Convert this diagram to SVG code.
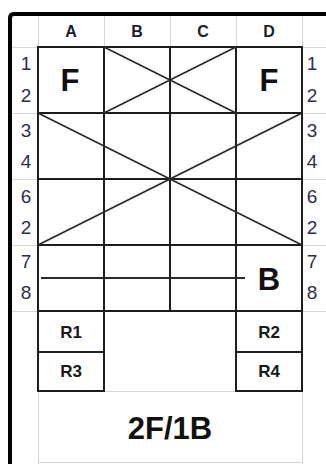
<svg xmlns="http://www.w3.org/2000/svg" width="326" height="464" viewBox="0 0 326 464">
<style>
.g{stroke:#d6d6d6;stroke-width:1;fill:none}
.k{stroke:#1e1e1e;stroke-width:2;fill:none;stroke-linecap:square}
.d{stroke:#2a2a2a;stroke-width:1.8;fill:none}
.hd{font-family:"Liberation Sans",Arial,sans-serif;font-weight:bold;font-size:16px;fill:#1e1e2a;text-anchor:middle}
.rn{font-family:"Liberation Sans",Arial,sans-serif;font-size:19px;fill:#2e2e4a;text-anchor:middle}
.big{font-family:"Liberation Sans",Arial,sans-serif;font-weight:bold;font-size:31px;fill:#111;text-anchor:middle}
.r{font-family:"Liberation Sans",Arial,sans-serif;font-weight:bold;font-size:17px;fill:#1a1a1a;text-anchor:middle}
</style>
<rect x="0" y="0" width="326" height="464" fill="#ffffff"/>
<g id="gridlines">
<path class="g" d="M38.5 16V464M104.5 16V47M170.5 16V47M236.5 16V47M302.5 16V464"/>
<path class="g" d="M12 47.5H326M12 113.5H38M302 113.5H326M12 179.5H38M302 179.5H326M12 245.5H38M302 245.5H326M12 311.5H38M302 311.5H326M104 391.5H236M38 462.5H302"/>
</g>
<g id="frame">
<path d="M10 464V18Q10 14 14 14H326" stroke="#000" stroke-width="4" fill="none"/>
</g>
<g id="headers">
<text class="hd" x="71" y="37">A</text>
<text class="hd" x="137" y="37">B</text>
<text class="hd" x="203" y="37">C</text>
<text class="hd" x="269" y="37">D</text>
</g>
<g id="row-labels-left">
<text class="rn" x="26" y="70">1</text>
<text class="rn" x="26" y="102">2</text>
<text class="rn" x="26" y="137">3</text>
<text class="rn" x="26" y="168">4</text>
<text class="rn" x="26" y="203">6</text>
<text class="rn" x="26" y="234">2</text>
<text class="rn" x="26" y="268">7</text>
<text class="rn" x="26" y="299">8</text>
</g>
<g id="row-labels-right">
<text class="rn" x="312" y="70">1</text>
<text class="rn" x="312" y="102">2</text>
<text class="rn" x="312" y="137">3</text>
<text class="rn" x="312" y="168">4</text>
<text class="rn" x="312" y="203">6</text>
<text class="rn" x="312" y="234">2</text>
<text class="rn" x="312" y="268">7</text>
<text class="rn" x="312" y="299">8</text>
</g>
<g id="grid">
<rect class="k" x="38" y="47" width="264" height="264"/>
<path class="k" d="M104 47V311M170 47V311M236 47V311M38 113H302M38 179H302M38 245H302"/>
</g>
<g id="connectors">
<path class="d" d="M104 47L236 113M104 113L236 47"/>
<path class="d" d="M38 113L302 245M302 113L38 245"/>
<path class="d" d="M41 278H245"/>
</g>
<g id="cell-A12"><text class="big" x="70" y="91">F</text></g>
<g id="cell-D12"><text class="big" x="269" y="91">F</text></g>
<g id="cell-D78"><text class="big" x="269" y="290">B</text></g>
<g id="R1"><rect class="k" x="38" y="311" width="66" height="41"/><text class="r" x="71" y="338">R1</text></g>
<g id="R3"><rect class="k" x="38" y="352" width="66" height="39"/><text class="r" x="71" y="377">R3</text></g>
<g id="R2"><rect class="k" x="236" y="311" width="66" height="41"/><text class="r" x="269" y="338">R2</text></g>
<g id="R4"><rect class="k" x="236" y="352" width="66" height="39"/><text class="r" x="269" y="377">R4</text></g>
<g id="title"><text class="big" x="170" y="439">2F/1B</text></g>
</svg>
